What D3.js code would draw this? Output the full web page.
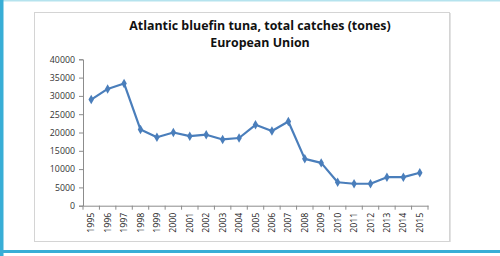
<!DOCTYPE html>
<html><head><meta charset="utf-8">
<script src="https://cdn.jsdelivr.net/npm/d3@7"></script>
<style>
html,body{margin:0;padding:0;background:#fff;}
svg{display:block;}
text{font-family:"Open Sans",Lato,sans-serif;}
</style></head><body>
<svg id="c" width="500" height="256"></svg>
<script>
const years = ["1995","1996","1997","1998","1999","2000","2001","2002","2003","2004","2005","2006","2007","2008","2009","2010","2011","2012","2013","2014","2015"];
const catches = [29000,31900,33400,20800,18700,20000,19000,19400,18100,18500,22100,20400,23000,12800,11700,6400,6000,6000,7800,7800,9000];
const yTicks = [0,5000,10000,15000,20000,25000,30000,35000,40000];
const titleLines = ["Atlantic bluefin tuna, total catches (tones)","European Union"];

(function(){
const svg = d3.select("#c");
const FONT = "'Open Sans',Lato,sans-serif";
// outer frame
svg.append("rect").attr("x",0).attr("y",0).attr("width",500).attr("height",1.5).attr("fill","#b5e3ee");
svg.append("rect").attr("x",0).attr("y",0).attr("width",3.5).attr("height",256).attr("fill","#38aed6");
svg.append("rect").attr("x",0).attr("y",250).attr("width",500).attr("height",3).attr("fill","#38aed6");
// chart box
svg.append("rect").attr("x",34.5).attr("y",12.5).attr("width",415).attr("height",229).attr("fill","#fff").attr("stroke","#d4d4d4").attr("stroke-width",1);
svg.append("line").attr("x1",450.5).attr("x2",450.5).attr("y1",13).attr("y2",242).attr("stroke","#e2e2e2").attr("stroke-width",1);

const pl=83, pr=428, pt=59.3, pb=205.7;
const x = d3.scaleBand().domain(years).range([pl,pr]);
const y = d3.scaleLinear().domain([0,40000]).range([pb,pt]);

// title
const t = svg.append("text").attr("text-anchor","middle").attr("font-weight","bold").attr("font-size","12.4px").attr("fill","#111").attr("font-family",FONT);
t.append("tspan").attr("x",260).attr("y",29.5).text(titleLines[0]);
t.append("tspan").attr("x",260).attr("y",46.5).text(titleLines[1]);

// y axis
const ya = svg.append("g").attr("transform",`translate(${pl},0)`)
  .call(d3.axisLeft(y).tickValues(yTicks).tickSize(4).tickPadding(4).tickFormat(d=>String(d)));
ya.selectAll("path,line").attr("stroke","#8c8c8c");
ya.selectAll("text").attr("font-size","8.8px").attr("fill","#333").attr("font-family",FONT);

// x axis
const xa = svg.append("g").attr("transform",`translate(0,${pb})`)
  .call(d3.axisBottom(x).tickSize(0).tickPadding(0));
xa.select("path").attr("stroke","#8c8c8c");
xa.selectAll("text").attr("font-size","8.8px").attr("fill","#222").attr("font-family",FONT)
  .attr("text-anchor","end").attr("transform","rotate(-90)").attr("x",-7).attr("y",0).attr("dy","0.35em");
// boundary ticks
const bounds = years.map(d=>x(d)).concat([pr]);
xa.selectAll("line.bt").data(bounds).join("line").attr("class","bt")
  .attr("x1",d=>d).attr("x2",d=>d).attr("y1",0).attr("y2",4).attr("stroke","#8c8c8c");

// line
const line = d3.line().x((d,i)=>x(years[i])+x.bandwidth()/2).y(d=>y(d));
svg.append("path").datum(catches).attr("d",line).attr("fill","none").attr("stroke","#4a7ebb").attr("stroke-width",2.2).attr("stroke-linejoin","round");
svg.selectAll("path.m").data(catches).join("path").attr("class","m")
  .attr("d",d3.symbol().type(d3.symbolDiamond).size(26))
  .attr("transform",(d,i)=>`translate(${x(years[i])+x.bandwidth()/2},${y(d)})`)
  .attr("fill","#4a7ebb");
})();
</script></body></html>
